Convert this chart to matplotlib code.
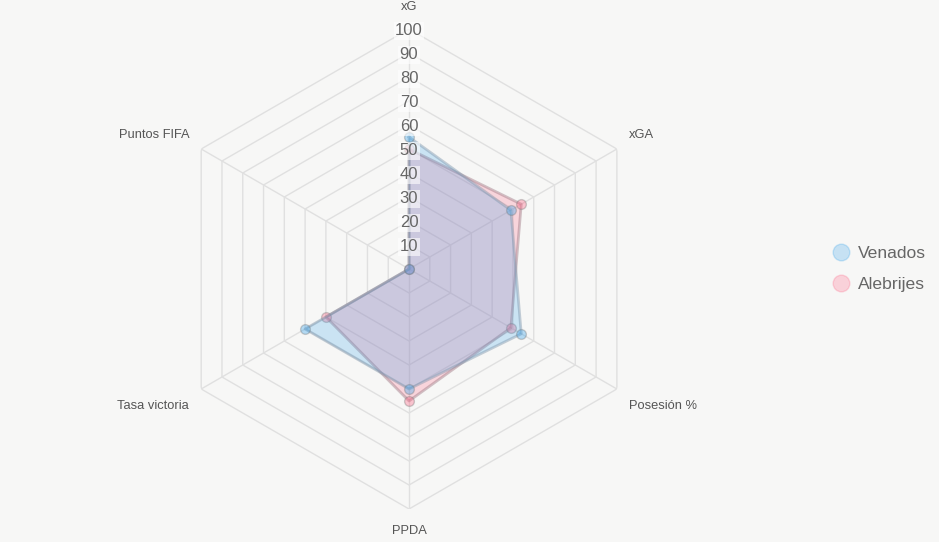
import numpy as np
import matplotlib.pyplot as plt
from matplotlib.lines import Line2D

plt.rcParams['font.family'] = ['Liberation Sans', 'DejaVu Sans']

categories = ['xG', 'xGA', 'Posesión %', 'PPDA', 'Tasa victoria', 'Puntos FIFA']
venados = [55, 49, 54, 50, 50, 0]
alebrijes = [50, 54, 49, 55, 40, 0]
ticks = [10, 20, 30, 40, 50, 60, 70, 80, 90, 100]

blue = '#36a2eb'
pink = '#ff6384'
bg = '#f7f7f6'

n = len(categories)
angles = np.linspace(0, 2 * np.pi, n, endpoint=False)
ang_c = np.append(angles, angles[0])

fig = plt.figure(figsize=(9.39, 5.42), dpi=100, facecolor=bg)
ax = fig.add_axes([0.18, 0.0609, 0.5112, 0.8856], projection='polar')
ax.set_facecolor(bg)
ax.set_theta_offset(np.pi / 2)
ax.set_theta_direction(-1)
ax.set_ylim(0, 100)
ax.grid(False)
ax.spines['polar'].set_visible(False)
ax.set_xticks([])
ax.set_yticks([])

# hexagon rings and spokes
for r in ticks:
    ax.plot(ang_c, [r] * (n + 1), color='#e0e0e0', lw=1, zorder=1)
for a in angles:
    ax.plot([a, a], [0, 100], color='#e0e0e0', lw=1, zorder=1)

# Alebrijes underneath, Venados on top
series = [(alebrijes, pink, '#a07884'), (venados, blue, '#7f97ad')]
for k, (vals, col, edge) in enumerate(series):
    v = np.append(vals, vals[0])
    z = 2 + k * 3
    ax.fill(ang_c, v, color=col, alpha=0.23, lw=0, zorder=z)
    ax.plot(ang_c, v, color=edge, alpha=0.45, lw=2, zorder=z + 1)
    ax.plot(angles, vals, 'o', ms=7, mfc=col, mec='#777777', mew=1, alpha=0.35, zorder=z + 2)

for r in ticks:
    ax.annotate(str(r), (0, r), xytext=(0, -2), textcoords='offset pixels',
                ha='center', va='center', fontsize=12, color='#666666', zorder=10,
                bbox=dict(facecolor='white', edgecolor='none', alpha=0.6, pad=1))

# category labels, offsets in pixels from the outer vertex
offsets = [(0, 22, 'center'), (12, 14, 'left'), (12, -17, 'left'),
           (0, -22, 'center'), (-12, -17, 'right'), (-12, 14, 'right')]
for a, cat, (dx, dy, ha) in zip(angles, categories, offsets):
    ax.annotate(cat, (a, 100), xytext=(dx, dy), textcoords='offset pixels',
                ha=ha, va='center', fontsize=9.3, color='#555555', annotation_clip=False)

handles = [Line2D([], [], marker='o', ls='none', ms=12, mfc=blue, mec=blue, alpha=0.25),
           Line2D([], [], marker='o', ls='none', ms=12, mfc=pink, mec=pink, alpha=0.25)]
leg = fig.legend(handles, ['Venados', 'Alebrijes'], loc='center left', bbox_to_anchor=(0.868, 0.503),
                 frameon=False, fontsize=12.6, labelcolor='#666666', handletextpad=0.35,
                 labelspacing=0.9, handlelength=1.2)

plt.savefig('out.png', dpi=100, facecolor=bg)
